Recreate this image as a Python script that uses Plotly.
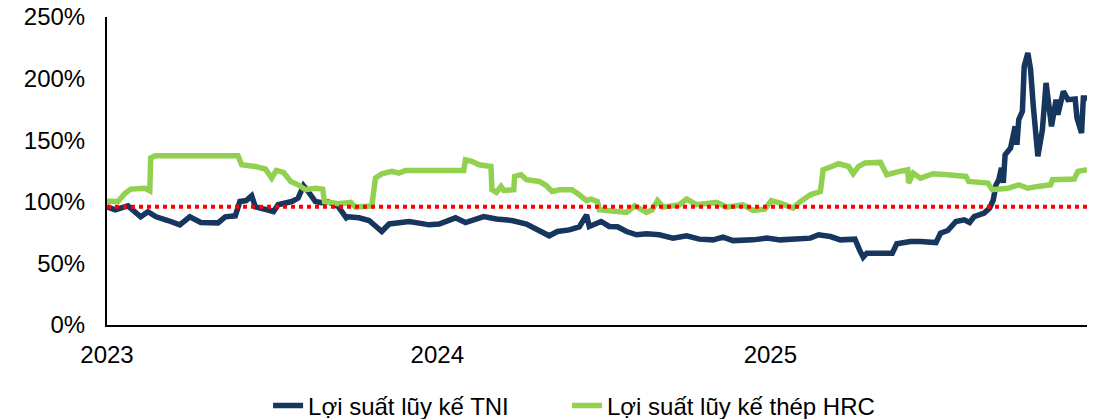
import plotly.graph_objects as go

# ---- data (cumulative return, %) ----
tni_dates = ["2023-01-03","2023-01-12","2023-01-26","2023-02-09","2023-02-17","2023-02-26","2023-03-11","2023-03-24",
 "2023-04-04","2023-04-16","2023-05-05","2023-05-13","2023-05-24","2023-05-29","2023-06-05","2023-06-11","2023-06-15",
 "2023-06-26","2023-07-05","2023-07-10","2023-07-25","2023-08-01","2023-08-07","2023-08-12","2023-08-20","2023-08-27",
 "2023-09-03","2023-09-14","2023-09-23","2023-09-25","2023-10-07","2023-10-18","2023-10-25","2023-11-01","2023-11-09",
 "2023-11-20","2023-12-01","2023-12-12","2023-12-23","2024-01-03","2024-01-21","2024-02-01","2024-02-21","2024-03-06",
 "2024-03-23","2024-04-08","2024-04-22","2024-05-03","2024-05-12","2024-05-25","2024-06-05","2024-06-13","2024-06-16",
 "2024-06-29","2024-07-08","2024-07-17","2024-07-27","2024-08-07","2024-08-18","2024-09-01","2024-09-16","2024-10-01",
 "2024-10-15","2024-10-30","2024-11-10","2024-11-21","2024-12-13","2024-12-28","2025-01-12","2025-02-03","2025-02-14",
 "2025-02-23","2025-03-08","2025-03-19","2025-04-04","2025-04-09","2025-04-13","2025-04-17","2025-05-09","2025-05-15",
 "2025-05-20","2025-06-04","2025-06-15","2025-07-02","2025-07-07","2025-07-15","2025-07-24","2025-08-02","2025-08-08",
 "2025-08-13","2025-08-24","2025-08-30","2025-09-03","2025-09-06","2025-09-09","2025-09-12","2025-09-14","2025-09-16",
 "2025-09-22","2025-09-25","2025-09-27","2025-09-29","2025-10-01","2025-10-05","2025-10-07","2025-10-11","2025-10-14",
 "2025-10-17","2025-10-22","2025-10-27","2025-10-31","2025-11-06","2025-11-11","2025-11-13","2025-11-19","2025-11-24",
 "2025-12-02","2025-12-04","2025-12-09","2025-12-11","2025-12-15"]
tni_values = [96,93.5,96.7,87.8,91.9,87.8,84.8,81.3,
 87.8,83.2,82.9,87.8,88.6,100.2,101,104.9,95.9,
 93.5,92.1,97.6,100.2,103,113,108.4,100.2,99.2,
 100,96.2,87,87.8,87,84.8,80,75.9,82,
 83.2,84,82.7,81.3,82,87,83.2,88,86,
 84.8,82,77.2,72.4,75.9,77.2,79.7,89.4,80,
 84,80,79.7,75.9,73.2,74,73.2,70.5,72.4,
 69.7,69.1,71.3,68.5,69.1,70.5,69.1,69.7,70.5,
 73.2,71.8,69.1,69.7,61,55,58.3,57.7,58.3,
 65.9,67.8,67.8,66.9,74.5,76.7,84,85.4,83.2,
 88,90.8,94.9,101.6,113.8,117.9,127.6,115.4,138.2,
 143.6,157.2,161.2,146.3,166.7,173.4,210,220.9,207.3,
 177.5,136.9,158.5,196.5,161.2,182.9,170.7,189.7,182.9,
 183.5,168,155.8,184.3,184.3]

hrc_dates = ["2023-01-03","2023-01-15","2023-01-23","2023-01-29","2023-02-14","2023-02-19","2023-02-20","2023-02-25",
 "2023-05-27","2023-05-31","2023-06-15","2023-06-26","2023-07-03","2023-07-08","2023-07-16","2023-07-24","2023-08-01",
 "2023-08-09","2023-08-20","2023-08-28","2023-08-30","2023-09-14","2023-09-28","2023-10-03","2023-10-21","2023-10-25",
 "2023-11-01","2023-11-12","2023-11-20","2023-11-27","2024-01-30","2024-02-01","2024-02-08","2024-02-16","2024-02-29",
 "2024-03-01","2024-03-06","2024-03-11","2024-03-14","2024-03-25","2024-03-26","2024-04-02","2024-04-08","2024-04-22",
 "2024-04-30","2024-05-06","2024-05-14","2024-05-28","2024-06-05","2024-06-13","2024-06-18","2024-06-25","2024-06-27",
 "2024-07-11","2024-07-27","2024-08-05","2024-08-18","2024-08-24","2024-08-30","2024-09-05","2024-09-23","2024-10-01",
 "2024-10-12","2024-11-03","2024-11-14","2024-12-02","2024-12-13","2024-12-26","2025-01-02","2025-01-12","2025-01-26",
 "2025-02-03","2025-02-14","2025-02-25","2025-02-28","2025-03-08","2025-03-17","2025-03-28","2025-04-02","2025-04-08",
 "2025-04-15","2025-05-02","2025-05-09","2025-05-23","2025-06-01","2025-06-02","2025-06-07","2025-06-15","2025-06-29",
 "2025-07-15","2025-08-04","2025-08-07","2025-08-28","2025-09-02","2025-09-19","2025-10-01","2025-10-11","2025-10-22",
 "2025-11-05","2025-11-07","2025-12-01","2025-12-05","2025-12-15"]
hrc_values = [100.5,100.2,107,110.3,111,109,135.5,137.4,
 137.4,130.1,128.7,126.6,119.2,125.5,123.8,116.5,113.8,
 109.8,111,110.3,100.2,98.4,99.5,95.7,96.7,119.2,
 122.8,124.7,123.3,125.5,125.5,134.1,132.8,130.1,128.7,
 109.8,107.6,112.5,109.2,109.8,120.6,122,117.9,116.5,
 113,108.4,109.8,109.8,105.7,101,102.2,100.2,93.5,
 93,91.4,96.7,91.4,93.5,101,95.7,97.6,102.2,
 97.6,99.5,95.7,97.6,93,94.1,101,98.9,94.9,
 100.2,105.7,108.4,126,128.2,130.9,128.7,122.8,128.7,
 131.5,132,122,124.7,126,115.2,123.3,119.2,122.8,
 122,120.6,116.5,115.2,109.8,111,113.8,111,112.5,
 113.8,117.9,118.5,124.7,126]

ref_level = 96
year_ticks = ["2023-01-03", "2024-01-01", "2025-01-01"]
year_labels = ["2023", "2024", "2025"]
y_ticks = [0, 50, 100, 150, 200, 250]
y_labels = ["0%", "50%", "100%", "150%", "200%", "250%"]

FONT = "Liberation Sans, Arial, sans-serif"

fig = go.Figure()
fig.add_trace(go.Scatter(x=tni_dates, y=tni_values, mode="lines", name="Lợi suất lũy kế TNI",
                         line=dict(color="#17365D", width=5.5), legend="legend"))
fig.add_trace(go.Scatter(x=hrc_dates, y=hrc_values, mode="lines", name="Lợi suất lũy kế thép HRC",
                         line=dict(color="#92D050", width=5.5), legend="legend2"))
fig.add_trace(go.Scatter(x=[tni_dates[0], tni_dates[-1]], y=[ref_level, ref_level], mode="lines",
                         line=dict(color="#FF0000", width=4, dash="dot"), showlegend=False, hoverinfo="skip"))

legend_common = dict(orientation="h", xref="container", yref="container", xanchor="left",
                     y=0.031, yanchor="middle", font=dict(family=FONT, size=24, color="#000000"),
                     bgcolor="rgba(0,0,0,0)")

fig.update_layout(
    width=1117, height=419,
    margin=dict(l=107, r=30, t=17, b=94, autoexpand=False),
    paper_bgcolor="white", plot_bgcolor="white",
    font=dict(family=FONT, color="#000000", size=24),
    legend=dict(x=0.240, **legend_common),
    legend2=dict(x=0.5076, **legend_common),
    showlegend=True,
)
fig.update_xaxes(type="date", range=[tni_dates[0], tni_dates[-1]], tickvals=year_ticks, ticktext=year_labels,
                 showgrid=False, showline=True, linecolor="#000000", linewidth=2, ticks="",
                 tickfont=dict(family=FONT, size=24), ticklabelstandoff=7, automargin=False)
fig.update_yaxes(range=[0, 250], tickvals=y_ticks, ticktext=y_labels, showgrid=False, showline=True,
                 linecolor="#000000", linewidth=2, ticks="", ticklabelstandoff=15, zeroline=False,
                 tickfont=dict(family=FONT, size=24), automargin=False)

fig.write_html("out.html", config={"displayModeBar": False},
               post_script="document.body.style.margin='0';document.body.style.overflow='hidden';")
